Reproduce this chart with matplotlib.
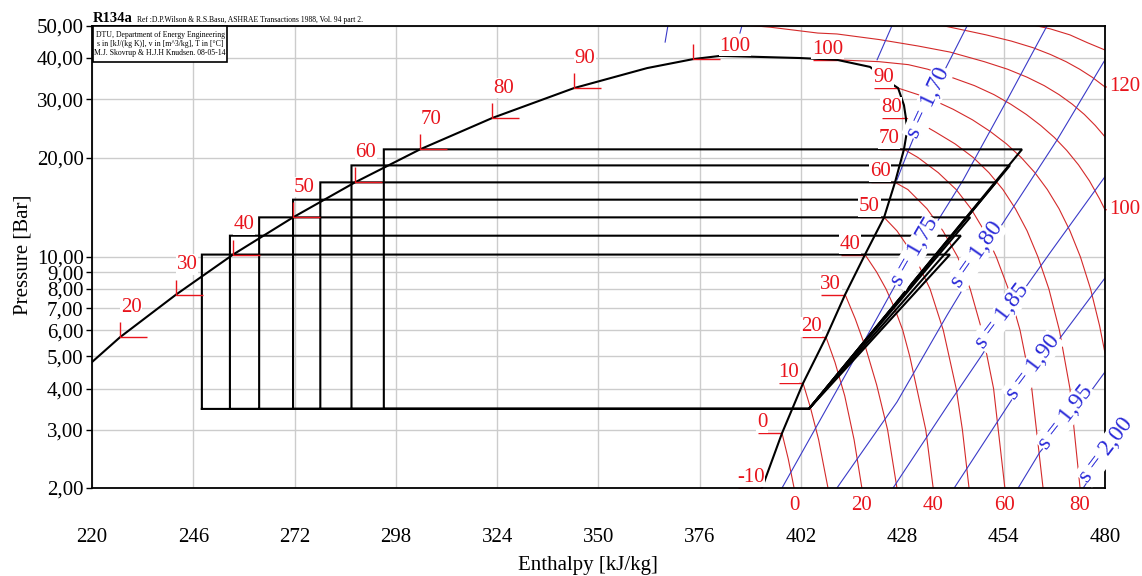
import matplotlib
matplotlib.use("Agg")
import matplotlib.pyplot as plt
from matplotlib.path import Path
from matplotlib.patches import Rectangle
from matplotlib.ticker import NullLocator

plt.rcParams['font.family'] = ['Liberation Serif', 'DejaVu Serif']

RED = '#e8141c'
RED_LINE = '#d42a2a'
BLUE = '#2a2ad8'
BLUE_LINE = '#3a3ac8'

# ---- axes ----
h_ticks = [220, 246, 272, 298, 324, 350, 376, 402, 428, 454, 480]
p_ticks = [2, 3, 4, 5, 6, 7, 8, 9, 10, 20, 30, 40, 50]
p_tick_labels = ["2,00", "3,00", "4,00", "5,00", "6,00", "7,00", "8,00",
                 "9,00", "10,00", "20,00", "30,00", "40,00", "50,00"]

# ---- saturation dome (h in kJ/kg, p in bar) ----
liq_h = [220.0, 227.2, 241.6, 256.2, 271.6, 287.5, 304.2, 322.7, 343.7, 362.5, 374.3, 381.2]
liq_p = [4.81, 5.72, 7.70, 10.17, 13.18, 16.82, 21.17, 26.33, 32.44, 37.3, 39.7, 40.6]
vap_h = [381.2, 391.5, 401.7, 411.2, 419.7, 425.6, 426.9, 428.4, 428.9, 429.2, 428.4,
         426.1, 423.3, 418.4, 413.3, 408.4, 402.5, 397.1, 392.0]
vap_p = [40.6, 40.3, 40.0, 39.5, 37.6, 33.2, 32.44, 28.8, 26.33, 24.1, 21.17,
         16.82, 13.18, 10.17, 7.70, 5.72, 4.15, 2.93, 2.006]

# saturation temperature marks
liq_T = [20, 30, 40, 50, 60, 70, 80, 90]
liq_T_h = [227.2, 241.6, 256.2, 271.6, 287.5, 304.2, 322.7, 343.7]
liq_T_p = [5.72, 7.70, 10.17, 13.18, 16.82, 21.17, 26.33, 32.44]
liq_crit_T = 100
liq_crit_h = 374.3
liq_crit_p = 39.7
vap_T = [-10, 0, 10, 20, 30, 40, 50, 60, 70, 80, 90, 100]
vap_T_h = [392.0, 397.1, 402.5, 408.4, 413.3, 418.4, 423.3, 426.1, 428.4, 428.9, 426.9, 411.2]
vap_T_p = [2.006, 2.93, 4.15, 5.72, 7.70, 10.17, 13.18, 16.82, 21.17, 26.33, 32.44, 39.5]

# ---- refrigeration cycles ----
p_evap = 3.47
h_suction = 404.0
cond_T = [40, 45, 50, 55, 60, 65, 70]
p_cond = [10.17, 11.60, 13.18, 14.91, 16.82, 18.93, 21.17]
h_expansion = [248.2, 255.4, 262.9, 271.6, 278.6, 286.6, 294.9]
h_discharge = [440.2, 443.0, 445.4, 448.2, 452.0, 455.6, 458.7]

# ---- isotherms in the superheated region ----
t0_h = [397.1, 398.7, 400.2]
t0_p = [2.93, 2.45, 2.0]
t10_h = [402.5, 404.4, 406.5, 408.9]
t10_p = [4.15, 3.5, 2.8, 2.0]
t20_h = [408.4, 410.7, 413.2, 415.6, 417.6]
t20_p = [5.72, 4.8, 3.8, 2.8, 2.0]
t30_h = [413.3, 415.9, 418.6, 421.4, 424.2, 426.6]
t30_p = [7.70, 6.5, 5.3, 4.1, 3.0, 2.0]
t40_h = [418.4, 421.4, 423.8, 426.0, 428.1, 429.9, 431.7, 434.0, 435.9]
t40_p = [10.17, 9.0, 8.0, 7.0, 6.0, 5.0, 4.0, 3.0, 2.0]
t50_h = [423.3, 426.6, 431.2, 435.1, 438.5, 441.8, 443.4, 445.1]
t50_p = [13.18, 12.0, 10.0, 8.0, 6.0, 4.0, 3.0, 2.0]
t60_h = [426.1, 429.4, 434.3, 438.4, 442.2, 445.4, 448.4, 451.4, 454.3]
t60_p = [16.82, 16.0, 14.0, 12.0, 10.0, 8.0, 6.0, 4.0, 2.0]
t70_h = [428.4, 432.0, 437.2, 441.8, 445.6, 449.0, 452.1, 455.2, 458.2, 461.2, 464.1]
t70_p = [21.17, 20.0, 18.0, 16.0, 14.0, 12.0, 10.0, 8.0, 6.0, 4.0, 2.0]
t80_h = [428.9, 432.8, 436.2, 441.5, 446.2, 450.2, 453.8, 457.0, 460.0, 462.8, 465.6, 468.3, 471.0, 473.6]
t80_p = [26.33, 25.3, 24.0, 22.0, 20.0, 18.0, 16.0, 14.0, 12.0, 10.0, 8.0, 6.0, 4.0, 2.0]
t90_h = [426.9, 432.0, 435.5, 441.0, 446.0, 450.5, 454.7, 458.5, 462.0, 465.2, 468.2, 471.0, 473.7, 476.3, 478.6, 480.0]
t90_p = [32.44, 31.0, 30.0, 28.0, 26.0, 24.0, 22.0, 20.0, 18.0, 16.0, 14.0, 12.0, 10.0, 8.0, 6.2, 5.12]
t100_h = [411.2, 422.0, 429.5, 434.5, 440.2, 446.5, 451.5, 455.8, 459.8, 463.5, 467.0, 470.2, 473.2, 476.0, 478.6, 480.0]
t100_p = [39.5, 39.0, 38.2, 37.0, 35.1, 33.0, 31.0, 29.0, 27.0, 25.0, 23.0, 21.0, 19.0, 17.0, 15.0, 13.9]
t110_h = [386.0, 394.0, 406.3, 411.2, 422.0, 432.0, 440.2, 449.0, 455.0, 460.0, 464.4, 468.2, 471.6, 474.7, 477.5, 480.0]
t110_p = [50.5, 49.6, 47.6, 47.3, 45.5, 43.5, 41.7, 39.0, 37.0, 35.0, 33.0, 31.0, 29.0, 27.0, 25.0, 23.1]
t120_h = [436.0, 440.2, 449.5, 456.0, 461.5, 466.0, 470.0, 473.5, 476.7, 480.0]
t120_p = [50.8, 49.6, 47.0, 45.0, 43.0, 41.0, 39.0, 37.0, 35.0, 32.7]
t130_h = [460.0, 466.0, 471.0, 475.5, 480.0]
t130_p = [50.8, 49.0, 47.0, 44.5, 42.3]

isotherms = [(t0_h, t0_p), (t10_h, t10_p), (t20_h, t20_p), (t30_h, t30_p),
             (t40_h, t40_p), (t50_h, t50_p), (t60_h, t60_p), (t70_h, t70_p),
             (t80_h, t80_p), (t90_h, t90_p), (t100_h, t100_p), (t110_h, t110_p),
             (t120_h, t120_p), (t130_h, t130_p)]

bottom_T = [0, 20, 40, 60, 80]
bottom_T_h = [400.2, 417.6, 435.9, 454.3, 473.6]
right_T = [100, 120]
right_T_p = [13.9, 32.7]

# ---- isentropes, s in kJ/(kg K) ----
s155_h = [367.1, 367.8]
s155_p = [44.7, 50.0]
s160_h = [386.3, 386.8]
s160_p = [47.6, 50.0]
s165_h = [421.5, 425.3]
s165_p = [39.5, 50.0]
s170_h = [426.6, 429.4, 434.6, 440.2, 444.6]
s170_p = [17.1, 20.8, 29.3, 39.5, 50.0]
s175_h = [397.1, 414.8, 426.9, 436.9, 443.6, 454.9, 465.1]
s175_p = [2.0, 4.71, 8.52, 12.77, 17.1, 29.9, 50.0]
s180_h = [411.2, 426.6, 439.5, 453.1, 467.7, 480.0]
s180_p = [2.0, 3.64, 6.68, 12.3, 22.6, 39.5]
s185_h = [425.6, 440.2, 448.4, 459.5, 465.9, 480.0]
s185_p = [2.0, 3.64, 5.05, 8.06, 10.3, 17.5]
s190_h = [441.3, 456.4, 467.7, 480.0]
s190_p = [2.0, 3.75, 5.53, 8.64]
s195_h = [457.7, 463.3, 476.2, 480.0]
s195_p = [2.0, 2.57, 3.90, 4.49]
s200_h = [474.4, 480.0]
s200_p = [2.0, 2.50]

isentropes = [(s155_h, s155_p), (s160_h, s160_p), (s165_h, s165_p), (s170_h, s170_p),
              (s175_h, s175_p), (s180_h, s180_p), (s185_h, s185_p), (s190_h, s190_p),
              (s195_h, s195_p), (s200_h, s200_p)]

s_label_text = ["s = 1,70", "s = 1,75", "s = 1,80", "s = 1,85", "s = 1,90", "s = 1,95", "s = 2,00"]
s_label_h = [434.6, 431.2, 447.0, 453.5, 461.5, 469.8, 480.3]
s_label_p = [29.3, 10.36, 10.14, 6.63, 4.65, 3.28, 2.61]
s_label_rot = [65, 60, 55, 53, 53, 52, 53]

# ---------------------------------------------------------------------------
W, H = 1142, 576
fig = plt.figure(figsize=(W / 100, H / 100), dpi=100)
ax = fig.add_axes([92 / W, 88 / H, 1013 / W, 462 / H])
ax.set_yscale('log')
ax.set_xlim(220, 480)
ax.set_ylim(2, 50)
ax.set_xticks(h_ticks)
ax.set_xticklabels([str(v) for v in h_ticks])
ax.set_yticks(p_ticks)
ax.set_yticklabels(p_tick_labels)
ax.yaxis.set_minor_locator(NullLocator())
ax.grid(True, color='#cccccc', lw=1.0, zorder=0)
ax.set_axisbelow(True)
ax.tick_params(axis='x', length=0, pad=29, labelsize=15)
ax.tick_params(axis='y', length=4, width=1, pad=2, labelsize=15)
for sp in ax.spines.values():
    sp.set_linewidth(1.3)
    sp.set_zorder(4)

ax.set_xlabel('Enthalpy [kJ/kg]', fontsize=15)
ax.xaxis.label.set_va('center')
ax.xaxis.set_label_coords(0.49, -0.168)
ax.set_ylabel('Pressure [Bar]', fontsize=15)
ax.yaxis.label.set_va('center')
ax.yaxis.set_label_coords(-0.068, 0.505)

# isotherms and isentropes
for hs, ps in isotherms:
    ax.plot(hs, ps, color=RED_LINE, lw=0.8, zorder=2)
for hs, ps in isentropes:
    ax.plot(hs, ps, color=BLUE_LINE, lw=0.8, zorder=2)

# saturation dome
ax.plot(liq_h, liq_p, color='black', lw=1.5, zorder=3)
ax.plot(vap_h, vap_p, color='black', lw=1.5, zorder=3)

# cycles: expansion, condensation, compression, evaporation
for pc, hx, hd in zip(p_cond, h_expansion, h_discharge):
    ax.plot([hx, hx, hd, h_suction, hx], [p_evap, pc, pc, p_evap, p_evap],
            color='black', lw=1.5, zorder=3, solid_joinstyle='miter')

# saturation temperature marks
liq_mark = Path([(0, 15 / 27), (0, 0), (1, 0)], [Path.MOVETO, Path.LINETO, Path.LINETO])
vap_mark = Path([(-1, 0), (0, 0)], [Path.MOVETO, Path.LINETO])
ax.plot(liq_T_h + [liq_crit_h], liq_T_p + [liq_crit_p], ls='none', marker=liq_mark,
        markersize=38.9, mfc='none', mec=RED, mew=1.0, zorder=4)
ax.plot(vap_T_h, vap_T_p, ls='none', marker=vap_mark, markersize=34,
        mfc='none', mec=RED, mew=1.0, zorder=2.5)

label_box = dict(facecolor='white', edgecolor='none', pad=0.4)
for T, hv, pv in zip(liq_T, liq_T_h, liq_T_p):
    ax.annotate(str(T), (hv, pv), xytext=(11, 30), textcoords='offset pixels',
                ha='center', va='center', color=RED, fontsize=15, zorder=5,
                bbox=label_box)
ax.annotate(str(liq_crit_T), (liq_crit_h, liq_crit_p), xytext=(42, 13),
            textcoords='offset pixels', ha='center', va='center', color=RED,
            fontsize=15, zorder=5, bbox=label_box)
for T, hv, pv in zip(vap_T, vap_T_h, vap_T_p):
    ax.annotate(str(T), (hv, pv), xytext=(-25, 6), textcoords='offset pixels',
                ha='left', va='baseline', color=RED, fontsize=15, zorder=5,
                bbox=label_box)

for T, hv in zip(bottom_T, bottom_T_h):
    ax.annotate(str(T), (hv, 2.0), xytext=(0, -17), textcoords='offset pixels',
                ha='center', va='center', color=RED, fontsize=15,
                annotation_clip=False)
for T, pv in zip(right_T, right_T_p):
    ax.annotate(str(T), (480, pv), xytext=(4, 0), textcoords='offset pixels',
                ha='left', va='center', color=RED, fontsize=15,
                annotation_clip=False,
                arrowprops=dict(arrowstyle='-', color=RED, lw=1.0,
                                shrinkA=0, shrinkB=0))

for txt, hv, pv, rot in zip(s_label_text, s_label_h, s_label_p, s_label_rot):
    ax.text(hv, pv, txt, rotation=rot, rotation_mode='anchor', ha='center',
            va='center', color=BLUE, fontsize=17, zorder=6, clip_on=False,
            bbox=dict(facecolor='white', edgecolor='none', pad=0.6))

# header and info box
fig.text(93 / W, 1 - 22 / H, 'R134a', fontsize=10.5, fontweight='bold', va='baseline')
fig.text(137 / W, 1 - 22 / H,
         'Ref :D.P.Wilson & R.S.Basu, ASHRAE Transactions 1988, Vol. 94 part 2.',
         fontsize=5.5, va='baseline')
fig.patches.append(Rectangle((93 / W, 1 - 62 / H), 134 / W, 36 / H,
                             transform=fig.transFigure, facecolor='white',
                             edgecolor='black', lw=1.2, zorder=10))
info_lines = ['DTU, Department of Energy Engineering',
              's in [kJ/(kg K)], v in [m^3/kg], T in [\u00b0C]',
              'M.J. Skovrup & H.J.H Knudsen. 08-05-14']
for i, line in enumerate(info_lines):
    fig.text(160 / W, 1 - (35 + 9 * i) / H, line, fontsize=5.6, ha='center',
             va='center', zorder=11)

fig.savefig('out.png', dpi=100)
